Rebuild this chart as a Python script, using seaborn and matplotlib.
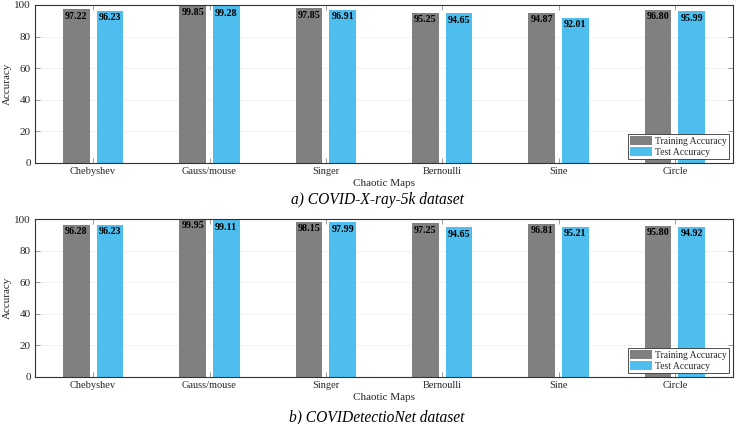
import matplotlib
matplotlib.use("Agg")
import matplotlib.pyplot as plt
import seaborn as sns
import pandas as pd

categories = ["Chebyshev", "Gauss/mouse", "Singer", "Bernoulli", "Sine", "Circle"]
series_names = ["Training Accuracy", "Test Accuracy"]
train_a = [97.22, 99.85, 97.85, 95.25, 94.87, 96.80]
test_a = [96.23, 99.28, 96.91, 94.65, 92.01, 95.99]
train_b = [96.28, 99.95, 98.15, 97.25, 96.81, 95.80]
test_b = [96.23, 99.11, 97.99, 94.65, 95.21, 94.92]
y_ticks = [0, 20, 40, 60, 80, 100]
captions = ["a) COVID-X-ray-5k dataset", "b) COVIDetectioNet dataset"]

sns.set_style("ticks")
plt.rcParams["font.family"] = ["Liberation Serif", "DejaVu Serif"]
plt.rcParams["axes.edgecolor"] = "#333333"
plt.rcParams["axes.linewidth"] = 0.8

colors = ["#808080", "#4DBEEE"]
txt = "#262626"

fig = plt.figure(figsize=(7.4, 4.24), dpi=100)
W, H = 740, 424
ax_specs = [(5, 163), (219, 377)]
left_px, right_px = 35, 733

datasets = [(train_a, test_a), (train_b, test_b)]
for i, ((tr, te), (top_px, bot_px)) in enumerate(zip(datasets, ax_specs)):
    ax = fig.add_axes([left_px / W, 1 - bot_px / H, (right_px - left_px) / W, (bot_px - top_px) / H])
    df = pd.DataFrame({
        "Map": categories * 2,
        "Accuracy": list(tr) + list(te),
        "Series": [series_names[0]] * len(categories) + [series_names[1]] * len(categories),
    })
    sns.barplot(data=df, x="Map", y="Accuracy", hue="Series", palette=colors,
                width=0.576, gap=0.2, ax=ax, errorbar=None, saturation=1,
                edgecolor="none", zorder=2)
    for cont in ax.containers:
        ax.bar_label(cont, fmt="%.2f", padding=-8.2, fontsize=7.2,
                     fontweight="bold", color="black", zorder=4)
    ax.set_xlim(-0.5, len(categories) - 0.5)
    ax.set_ylim(0, 100)
    ax.set_yticks(y_ticks)
    ax.yaxis.grid(True, color="#f0f0f0", linewidth=0.6, zorder=0)
    ax.set_axisbelow(True)
    ax.tick_params(direction="in", length=3.8, width=0.6, top=True, right=True,
                   labelsize=8, colors="#8a8a8a", labelcolor=txt, pad=3)
    ax.tick_params(axis="x", labelsize=7.5)
    for sp in ax.spines.values():
        sp.set_visible(True)
    ax.set_xlabel("Chaotic Maps", fontsize=8, color=txt, labelpad=2)
    ax.set_ylabel("Accuracy", fontsize=8, color=txt, labelpad=2)
    leg = ax.legend(loc="lower right", fontsize=6.9, frameon=True, fancybox=False,
                    edgecolor="#333333", framealpha=1, borderpad=0.25,
                    labelspacing=0.15, handletextpad=0.3, handlelength=2.3,
                    handleheight=1.0, borderaxespad=0.4, title=None)
    leg.get_frame().set_linewidth(0.6)
    leg.set_zorder(10)
    cap_y = 200 if i == 0 else 417
    fig.text(377 / W, 1 - cap_y / H, captions[i], ha="center", va="center",
             fontsize=11.2, style="italic", color="black")

fig.savefig("out.png", dpi=100)
